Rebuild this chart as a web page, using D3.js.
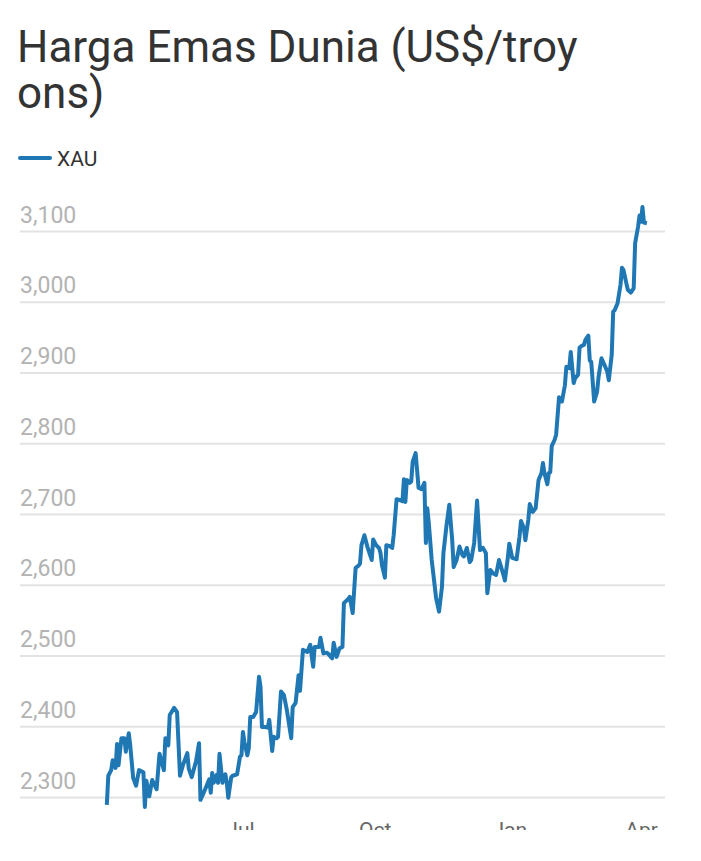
<!DOCTYPE html>
<html>
<head>
<meta charset="utf-8">
<script src="https://cdn.jsdelivr.net/npm/d3@7"></script>
<style>
  body { margin: 0; background: #fff; font-family: Roboto, "Noto Sans", sans-serif; }
  #chart { width: 701px; height: 861px; overflow: hidden; }
</style>
</head>
<body>
<div id="chart"></div>
<script>
// harga emas harian (US$/troy ons)
var dates = [
  "2024-04-01","2024-04-02","2024-04-04","2024-04-05","2024-04-07","2024-04-08","2024-04-09","2024-04-11",
  "2024-04-13","2024-04-14","2024-04-16","2024-04-17","2024-04-19","2024-04-21","2024-04-23","2024-04-26",
  "2024-04-27","2024-04-28","2024-04-30","2024-05-02","2024-05-05","2024-05-07","2024-05-10","2024-05-11",
  "2024-05-13","2024-05-14","2024-05-17","2024-05-19","2024-05-21","2024-05-23","2024-05-26","2024-05-27",
  "2024-05-29","2024-06-01","2024-06-03","2024-06-04","2024-06-07","2024-06-10","2024-06-11","2024-06-12",
  "2024-06-13","2024-06-15","2024-06-16","2024-06-17","2024-06-19","2024-06-21","2024-06-22","2024-06-23",
  "2024-06-25","2024-06-26","2024-06-29","2024-07-01","2024-07-02","2024-07-03","2024-07-04","2024-07-06",
  "2024-07-07","2024-07-08","2024-07-10","2024-07-12","2024-07-14","2024-07-15","2024-07-16","2024-07-18",
  "2024-07-20","2024-07-21","2024-07-23","2024-07-24","2024-07-26","2024-07-27","2024-07-29","2024-07-31",
  "2024-08-02","2024-08-05","2024-08-06","2024-08-08","2024-08-10","2024-08-11","2024-08-13","2024-08-16",
  "2024-08-18","2024-08-20","2024-08-21","2024-08-24","2024-08-25","2024-08-27","2024-08-29","2024-08-30",
  "2024-09-02","2024-09-03","2024-09-05","2024-09-07","2024-09-09","2024-09-10","2024-09-13","2024-09-14",
  "2024-09-16","2024-09-18","2024-09-20","2024-09-21","2024-09-22","2024-09-24","2024-09-26","2024-09-29",
  "2024-09-30","2024-10-02","2024-10-04","2024-10-05","2024-10-06","2024-10-08","2024-10-09","2024-10-11",
  "2024-10-13","2024-10-14","2024-10-16","2024-10-18","2024-10-20","2024-10-21","2024-10-22","2024-10-23",
  "2024-10-25","2024-10-26","2024-10-27","2024-10-29","2024-10-30","2024-10-31","2024-11-02","2024-11-04",
  "2024-11-05","2024-11-06","2024-11-07","2024-11-09","2024-11-12","2024-11-14","2024-11-16","2024-11-17",
  "2024-11-19","2024-11-21","2024-11-23","2024-11-24","2024-11-26","2024-11-28","2024-11-30","2024-12-01",
  "2024-12-03","2024-12-05","2024-12-06","2024-12-08","2024-12-10","2024-12-12","2024-12-14","2024-12-16",
  "2024-12-17","2024-12-19","2024-12-21","2024-12-23","2024-12-25","2024-12-28","2024-12-29","2024-12-31",
  "2025-01-01","2025-01-03","2025-01-06","2025-01-08","2025-01-09","2025-01-11","2025-01-12","2025-01-14",
  "2025-01-15","2025-01-17","2025-01-19","2025-01-21","2025-01-23","2025-01-24","2025-01-25","2025-01-27",
  "2025-01-28","2025-01-29","2025-01-30","2025-02-01","2025-02-02","2025-02-04","2025-02-06","2025-02-08",
  "2025-02-09","2025-02-11","2025-02-12","2025-02-14","2025-02-15","2025-02-17","2025-02-18","2025-02-19",
  "2025-02-21","2025-02-22","2025-02-24","2025-02-25","2025-02-26","2025-02-27","2025-02-28","2025-03-02",
  "2025-03-03","2025-03-05","2025-03-07","2025-03-09","2025-03-10","2025-03-12","2025-03-13","2025-03-14",
  "2025-03-16","2025-03-18","2025-03-19","2025-03-20","2025-03-22","2025-03-23","2025-03-25","2025-03-27",
  "2025-03-28","2025-03-30","2025-03-31","2025-04-01","2025-04-02","2025-04-03","2025-04-05"
];
var xau = [
  2289,2330,2338,2352,2341,2375,2345,2383,
  2383,2364,2390,2373,2327,2316,2338,2335,
  2286,2323,2301,2324,2311,2361,2338,2383,
  2373,2416,2426,2420,2330,2345,2362,2340,
  2328,2351,2376,2296,2310,2325,2306,2334,
  2320,2331,2320,2361,2320,2332,2320,2299,
  2328,2330,2332,2357,2359,2392,2378,2359,
  2369,2413,2413,2420,2470,2456,2399,2399,
  2398,2409,2365,2385,2383,2385,2449,2444,
  2423,2383,2427,2433,2472,2450,2508,2505,
  2515,2484,2512,2512,2525,2503,2504,2503,
  2496,2518,2498,2510,2512,2574,2580,2583,
  2560,2624,2627,2630,2656,2670,2654,2635,
  2664,2656,2652,2645,2628,2610,2656,2655,
  2652,2670,2721,2720,2718,2749,2717,2748,
  2744,2746,2774,2786,2762,2737,2735,2744,
  2659,2708,2687,2635,2581,2562,2597,2645,
  2682,2713,2663,2625,2635,2654,2642,2640,
  2652,2632,2635,2659,2719,2649,2652,2645,
  2588,2621,2616,2614,2635,2614,2606,2638,
  2658,2638,2636,2668,2690,2680,2663,2692,
  2714,2703,2708,2748,2758,2772,2758,2742,
  2758,2759,2796,2805,2812,2865,2859,2882,
  2908,2906,2929,2885,2892,2897,2935,2937,
  2939,2946,2952,2917,2915,2887,2859,2873,
  2894,2920,2911,2901,2889,2925,2986,2988,
  2998,3024,3048,3045,3026,3017,3013,3019,
  3083,3106,3122,3113,3134,3112,3111
];
var yTicks = [2300, 2400, 2500, 2600, 2700, 2800, 2900, 3000, 3100];
var xTickDates = ["2024-07-01", "2024-10-01", "2025-01-01", "2025-04-01"];
var xTickLabels = ["Jul", "Oct", "Jan", "Apr"];

var parse = d3.utcParse("%Y-%m-%d");
var data = dates.map(function(d, i) { return {date: parse(d), value: xau[i]}; });

var W = 701, H = 830;
var svg = d3.select("#chart").append("svg")
    .attr("width", W)
    .attr("height", H);

// judul
var title = svg.append("text")
    .attr("fill", "#333")
    .style("font-size", "44px");
title.append("tspan").attr("x", 17).attr("y", 62).text("Harga Emas Dunia (US$/troy");
title.append("tspan").attr("x", 17).attr("y", 108).text("ons)");

// legenda
svg.append("line")
    .attr("x1", 20).attr("x2", 50)
    .attr("y1", 158).attr("y2", 158)
    .attr("stroke", "#1f77b4")
    .attr("stroke-width", 4)
    .attr("stroke-linecap", "round");
svg.append("text")
    .attr("x", 57).attr("y", 166)
    .attr("fill", "#333")
    .style("font-size", "21px")
    .text("XAU");

// skala
var x = d3.scaleUtc()
    .domain([parse("2024-07-01"), parse("2025-04-01")])
    .range([240, 641]);
var y = d3.scaleLinear()
    .domain([2300, 3100])
    .range([797, 231]);

// grid dan label sumbu y
var yAxis = svg.append("g")
    .attr("transform", "translate(20,0)")
    .call(d3.axisRight(y).tickValues(yTicks).tickSize(645).tickFormat(d3.format(",")));
yAxis.select(".domain").remove();
yAxis.selectAll(".tick line")
    .attr("stroke", "#e3e3e3")
    .attr("stroke-width", 2);
yAxis.selectAll(".tick text")
    .attr("x", 0)
    .attr("dy", -9)
    .attr("text-anchor", "start")
    .attr("fill", "#b3b3b3")
    .style("font-family", "Roboto, sans-serif")
    .style("font-size", "23px");

// sumbu x
var xAxis = svg.append("g")
    .attr("transform", "translate(0,810)")
    .call(d3.axisBottom(x)
        .tickValues(xTickDates.map(parse))
        .tickSize(0)
        .tickFormat(function(d, i) { return xTickLabels[i]; }));
xAxis.select(".domain").remove();
xAxis.selectAll(".tick text")
    .attr("dy", 0)
    .attr("y", 27)
    .attr("fill", "#666")
    .style("font-family", "Roboto, sans-serif")
    .style("font-size", "21px");

// garis harga
var line = d3.line()
    .x(function(d) { return x(d.date); })
    .y(function(d) { return y(d.value); });

svg.append("path")
    .datum(data)
    .attr("fill", "none")
    .attr("stroke", "#1f77b4")
    .attr("stroke-width", 4)
    .attr("stroke-linejoin", "round")
    .attr("d", line);
</script>
</body>
</html>
